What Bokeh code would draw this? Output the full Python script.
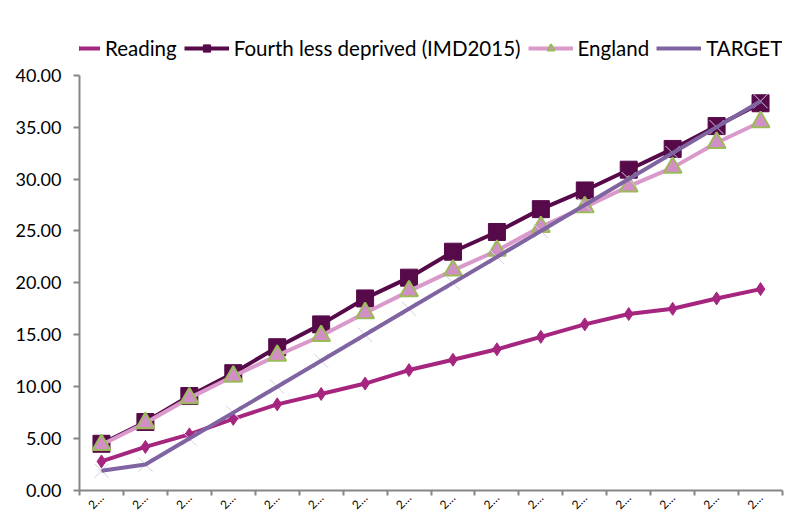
from bokeh.plotting import figure
from bokeh.models import Legend, LegendItem, FixedTicker, Range1d
from bokeh.embed import file_html
from bokeh.resources import INLINE

categories = ["2…"] * 16
reading = [2.8, 4.2, 5.4, 6.9, 8.3, 9.3, 10.3, 11.6, 12.6, 13.6, 14.8, 16.0, 17.0, 17.5, 18.5, 19.4]
fourth = [4.5, 6.6, 9.1, 11.3, 13.8, 16.0, 18.5, 20.5, 23.0, 24.9, 27.1, 28.9, 30.9, 32.9, 35.1, 37.3]
england = [4.4, 6.5, 8.9, 11.0, 13.0, 14.9, 17.1, 19.2, 21.2, 23.1, 25.4, 27.3, 29.3, 31.1, 33.5, 35.5]
target = [1.9, 2.5, 5.0, 7.5, 10.0, 12.5, 15.0, 17.5, 20.0, 22.5, 25.0, 27.5, 30.0, 32.5, 35.0, 37.5]
y_ticks = [0, 5, 10, 15, 20, 25, 30, 35, 40]

xs = list(range(1, len(categories) + 1))
FONT = "Lato"

p = figure(width=787, height=520, output_backend="svg", toolbar_location=None,
           x_range=Range1d(0.5, len(categories) + 0.5), y_range=Range1d(0, 44.5),
           min_border_left=79, min_border_right=5, min_border_top=28, min_border_bottom=29)
p.outline_line_color = None
p.xgrid.grid_line_color = None
p.ygrid.grid_line_color = None

r1l = p.line(xs, reading, line_color="#A6267F", line_width=4)
r1m = p.scatter(xs, reading, marker="diamond", size=13, fill_color="#A6267F", line_color="#A6267F")
r2l = p.line(xs, fourth, line_color="#570A4A", line_width=4)
r2m = p.scatter(xs, fourth, marker="square", size=17, fill_color="#570A4A", line_color="#570A4A")
r3l = p.line(xs, england, line_color="#D99ACB", line_width=4)
r3m = p.scatter(xs, england, marker="triangle", size=18, fill_color="#D28FC6", line_color="#9BBB59", line_width=2)
r4m = p.scatter(xs, target, marker="x", size=20, line_color="#D6CCE6", line_width=1)
r4l = p.line(xs, target, line_color="#8064A2", line_width=4)

legend = Legend(items=[
    LegendItem(label="Reading", renderers=[r1l, r1m]),
    LegendItem(label="Fourth less deprived (IMD2015)", renderers=[r2l, r2m]),
    LegendItem(label="England", renderers=[r3l, r3m]),
    LegendItem(label="TARGET", renderers=[r4l]),
], orientation="horizontal", location=(-24, 430))
legend.border_line_color = None
legend.background_fill_alpha = 0
legend.label_text_font = FONT
legend.label_text_font_size = "20.5px"
legend.label_text_color = "#000000"
legend.glyph_width = 45
legend.glyph_height = 18
legend.spacing = 7
legend.label_standoff = 5
legend.padding = 0
legend.margin = 0
p.add_layout(legend, "center")

p.xaxis.ticker = FixedTicker(ticks=xs, minor_ticks=[x - 0.5 for x in xs] + [len(xs) + 0.5])
p.xaxis.major_label_overrides = {x: c for x, c in zip(xs, categories)}
p.xaxis.major_tick_out = 0
p.xaxis.major_tick_in = 0
p.xaxis.minor_tick_out = 5
p.xaxis.minor_tick_in = 0
p.xaxis.major_label_orientation = 0.785
p.xaxis.major_label_text_font = FONT
p.xaxis.major_label_text_font_size = "12px"
p.xaxis.major_label_standoff = 0

p.yaxis.ticker = FixedTicker(ticks=y_ticks, minor_ticks=[])
p.yaxis.bounds = (0, 40)
p.yaxis.major_label_overrides = {t: f"{t:.2f}" for t in y_ticks}
p.yaxis.major_tick_out = 6
p.yaxis.major_tick_in = 0
p.yaxis.major_label_text_font = FONT
p.yaxis.major_label_text_font_size = "18px"
p.yaxis.major_label_standoff = 12

for ax in (p.xaxis, p.yaxis):
    ax.axis_line_color = "#868686"
    ax.axis_line_width = 2
    ax.major_tick_line_color = "#868686"
    ax.minor_tick_line_color = "#868686"
    ax.major_tick_line_width = 2
    ax.minor_tick_line_width = 2
    ax.major_label_text_color = "#000000"

open("out.html", "w").write(file_html(p, INLINE))
